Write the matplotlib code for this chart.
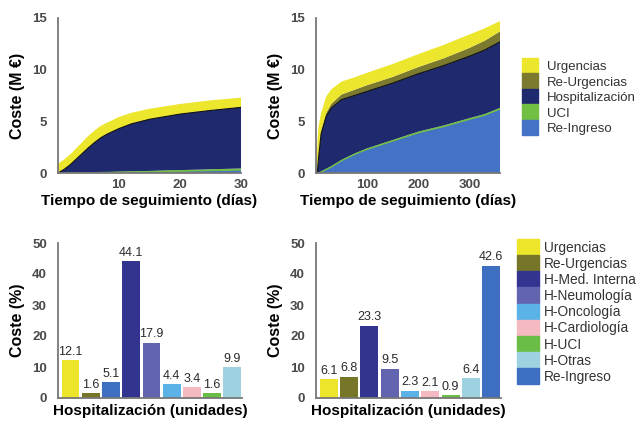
import matplotlib as mpl
mpl.use('Agg')
import matplotlib.pyplot as plt
from matplotlib.patches import Patch
import numpy as np

plt.rcParams['font.family'] = ['Liberation Sans', 'DejaVu Sans']

# ---- stacked cost over follow-up time (M EUR) ----
comp_names = ['Urgencias', 'Re-Urgencias', 'Hospitalización', 'UCI', 'Re-Ingreso']
comp_colors = ['#ece62c', '#7b7a2e', '#1e2a6d', '#72c043', '#4472c4']

days_30 = [0, 1, 2, 3, 4, 5, 6, 7, 8, 10, 12, 15, 20, 25, 30]
reing_30 = [0, 0, 0, 0, 0.01, 0.02, 0.03, 0.04, 0.05, 0.07, 0.09, 0.12, 0.18, 0.24, 0.3]
uci_30 = [0, 0, 0, 0.01, 0.01, 0.02, 0.03, 0.03, 0.04, 0.05, 0.06, 0.08, 0.1, 0.12, 0.14]
hosp_30 = [0, 0.35, 0.8, 1.34, 1.88, 2.41, 2.89, 3.33, 3.66, 4.18, 4.6, 5.0, 5.42, 5.69, 5.91]
reurg_30 = [0, 0, 0, 0, 0, 0.01, 0.01, 0.01, 0.01, 0.02, 0.02, 0.02, 0.03, 0.03, 0.04]
urg_30 = [0.9, 0.95, 1.0, 1.05, 1.1, 1.15, 1.15, 1.15, 1.1, 1.1, 1.05, 1.0, 0.95, 0.95, 0.9]

days_360 = [1, 3, 5, 10, 20, 30, 50, 75, 100, 150, 200, 250, 300, 330, 360]
reing_360 = [0, 0, 0, 0.1, 0.35, 0.6, 1.2, 1.8, 2.3, 3.1, 3.9, 4.5, 5.2, 5.6, 6.2]
uci_360 = [0, 0, 0, 0.02, 0.04, 0.05, 0.06, 0.07, 0.08, 0.09, 0.1, 0.1, 0.1, 0.1, 0.1]
hosp_360 = [0, 0.3, 1.5, 3.68, 5.11, 5.65, 5.84, 5.63, 5.52, 5.51, 5.6, 5.8, 6.0, 6.2, 6.4]
reurg_360 = [0, 0.05, 0.1, 0.2, 0.3, 0.4, 0.5, 0.55, 0.6, 0.6, 0.65, 0.7, 0.8, 0.9, 1.0]
urg_360 = [1.0, 2.85, 2.9, 1.8, 1.6, 1.4, 1.25, 1.2, 1.2, 1.25, 1.25, 1.3, 1.3, 1.2, 1.0]

# ---- cost share by unit (%) ----
unit_names = ['Urgencias', 'Re-Urgencias', 'H-Med. Interna', 'H-Neumología', 'H-Oncología',
              'H-Cardiología', 'H-UCI', 'H-Otras', 'Re-Ingreso']
unit_colors = ['#ede52a', '#777628', '#33348f', '#6364b0', '#5ab2e6',
               '#f5b9c1', '#6bbe45', '#9fd2e0', '#3e6ec0']
# bar order on each panel (index into unit_names)
order_left = [0, 1, 8, 2, 3, 4, 5, 6, 7]
pct_left = [12.1, 1.6, 5.1, 44.1, 17.9, 4.4, 3.4, 1.6, 9.9]
order_right = [0, 1, 2, 3, 4, 5, 6, 7, 8]
pct_right = [6.1, 6.8, 23.3, 9.5, 2.3, 2.1, 0.9, 6.4, 42.6]

W, H = 640, 421
fig = plt.figure(figsize=(6.4, 4.21), dpi=100)

def style(ax, ylabel, xlabel, xpad):
    for s in ['top', 'right']:
        ax.spines[s].set_visible(False)
    for s in ['left', 'bottom']:
        ax.spines[s].set_color('#777777')
        ax.spines[s].set_linewidth(1.3)
    ax.tick_params(length=0, labelsize=9.5, labelcolor='#4a4a4a')
    ax.tick_params(axis='y', pad=8)
    ax.tick_params(axis='x', pad=4)
    for t in ax.get_xticklabels() + ax.get_yticklabels():
        t.set_fontweight('bold')
    ax.set_ylabel(ylabel, fontsize=11.5, fontweight='bold', labelpad=5)
    ax.set_xlabel(xlabel, fontsize=11, fontweight='bold', labelpad=xpad)

def box(x0, y0, x1, y1):
    return [x0 / W, 1 - y1 / H, (x1 - x0) / W, (y1 - y0) / H]

# top panels
for pos, days, series, xlim, xt in [
        (box(58, 18, 241, 173), days_30, [reing_30, uci_30, hosp_30, reurg_30, urg_30], (0, 30), [10, 20, 30]),
        (box(316, 18, 500, 173), days_360, [reing_360, uci_360, hosp_360, reurg_360, urg_360], (0, 360), [100, 200, 300])]:
    ax = fig.add_axes(pos)
    cols = comp_colors[::-1]
    ax.stackplot(days, *series, colors=cols, linewidth=0)
    top_h = np.sum(series[:3], axis=0)
    top_r = np.sum(series[:1], axis=0)
    ax.plot(days, top_h, color='#111111', lw=0.8)
    ax.plot(days, top_r, color=comp_colors[3], lw=1.0)
    ax.set_xlim(*xlim)
    ax.set_ylim(0, 15)
    ax.set_xticks(xt)
    ax.set_yticks([0, 5, 10, 15])
    style(ax, 'Coste (M €)', 'Tiempo de seguimiento (días)', 2.5)

# bottom panels
for pos, order, pct in [(box(58, 243, 242, 398), order_left, pct_left),
                        (box(316, 243, 501, 398), order_right, pct_right)]:
    ax = fig.add_axes(pos)
    x = np.arange(len(pct))
    bars = ax.bar(x, pct, width=0.88, color=[unit_colors[i] for i in order])
    for b, v in zip(bars, pct):
        ax.text(b.get_x() + b.get_width() / 2, v + 0.8, f'{v:.1f}', ha='center', va='bottom',
                fontsize=9, color='#2a2a2a')
    ax.set_xlim(-0.62, 8.48)
    ax.set_ylim(0, 50)
    ax.set_xticks([])
    ax.set_yticks([0, 10, 20, 30, 40, 50])
    style(ax, 'Coste (%)', 'Hospitalización (unidades)', 4)

# legends
h_top = [Patch(color=c) for c in comp_colors]
fig.legend(h_top, comp_names, loc='upper left', bbox_to_anchor=(522 / W, 1 - 58 / H),
           frameon=False, borderpad=0, borderaxespad=0, labelspacing=0,
           handlelength=1.25, handleheight=1.43, handletextpad=0.65,
           fontsize=9.5, labelcolor='#333333')
h_bot = [Patch(color=c) for c in unit_colors]
fig.legend(h_bot, unit_names, loc='upper left', bbox_to_anchor=(517 / W, 1 - 239 / H),
           frameon=False, borderpad=0, borderaxespad=0, labelspacing=0,
           handlelength=1.6, handleheight=1.43, handletextpad=0.35,
           fontsize=9.9, labelcolor='#333333')

plt.savefig('out.png', dpi=100)
